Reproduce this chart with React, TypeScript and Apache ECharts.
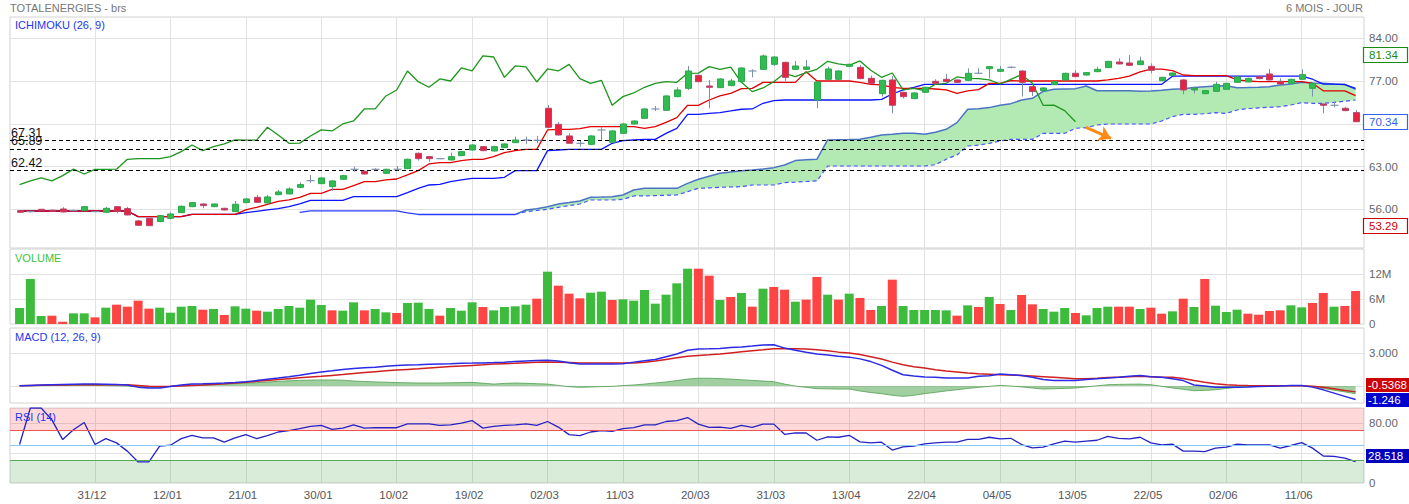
import { useEffect, useRef } from "react";
import * as echarts from "echarts";

// ---- axis ticks ----
const dateTickIdx = [7, 14, 21, 28, 35, 42, 49, 56, 63, 70, 77, 84, 91, 98, 105, 112, 119];
const dateLabels = ["31/12", "12/01", "21/01", "30/01", "10/02", "19/02", "02/03", "11/03", "20/03", "31/03", "13/04", "22/04", "04/05", "13/05", "22/05", "02/06", "11/06"];
const priceTicks = [56, 63, 70, 77, 84];
const priceLabelTicks = [56, 63, 77, 84];

// ---- daily candles: [open, close, low, high] ----
const candles = [
  [55.78, 55.51, 55.45, 55.84], [55.62, 55.60, 55.45, 55.78], [56.00, 55.85, 55.80, 56.05], [55.85, 55.80, 55.70, 55.95],
  [56.05, 55.56, 55.50, 56.35], [55.80, 55.82, 55.65, 55.95], [55.78, 56.43, 55.70, 56.50], [55.62, 55.64, 55.55, 55.70],
  [55.51, 56.16, 55.45, 56.40], [56.43, 55.67, 55.34, 56.50], [56.11, 55.07, 55.00, 56.40], [54.09, 53.38, 53.30, 54.25],
  [54.52, 53.32, 53.29, 54.60], [53.98, 54.96, 53.90, 55.05], [54.52, 55.23, 54.36, 55.51], [55.45, 56.49, 55.40, 56.60],
  [56.43, 57.09, 56.35, 57.20], [56.87, 56.60, 56.16, 56.95], [56.43, 56.87, 56.35, 56.95], [56.16, 55.89, 55.80, 56.25],
  [55.62, 56.82, 55.55, 57.36], [57.09, 57.69, 57.00, 57.80], [57.96, 57.14, 57.05, 58.35], [57.04, 58.02, 56.95, 58.35],
  [58.40, 58.84, 58.30, 59.16], [58.51, 59.33, 58.45, 59.60], [59.60, 60.04, 59.50, 60.42], [60.69, 60.66, 60.36, 61.62],
  [60.20, 61.13, 60.10, 61.25], [59.71, 60.64, 59.00, 60.75], [60.91, 61.51, 60.85, 61.65], [62.55, 62.57, 62.17, 62.98],
  [62.22, 61.78, 61.70, 62.35], [62.55, 62.53, 62.40, 62.70], [61.89, 62.55, 61.80, 62.65], [62.55, 62.57, 62.33, 63.09],
  [62.66, 64.19, 62.60, 64.30], [65.17, 64.29, 63.97, 65.30], [64.62, 64.29, 63.80, 64.70], [64.29, 64.31, 64.20, 64.40],
  [64.08, 64.62, 64.00, 65.28], [64.79, 65.44, 64.70, 65.55], [65.71, 66.53, 65.60, 66.65], [66.26, 65.60, 65.50, 66.35],
  [65.55, 66.26, 65.45, 66.40], [66.10, 66.70, 66.00, 66.80], [66.91, 67.35, 66.85, 67.90], [67.35, 67.33, 66.70, 67.90],
  [67.30, 67.32, 66.81, 68.01], [72.54, 69.43, 69.26, 73.08], [69.92, 68.17, 68.06, 70.30], [68.01, 66.81, 66.75, 68.44],
  [66.81, 66.83, 66.26, 67.19], [66.64, 68.01, 66.55, 68.10], [68.99, 69.01, 67.35, 69.53], [66.97, 68.83, 66.90, 68.95],
  [68.44, 69.97, 68.35, 70.05], [69.97, 70.46, 69.90, 70.55], [70.90, 72.43, 70.80, 72.55], [72.43, 72.45, 72.10, 72.92],
  [72.21, 74.56, 72.10, 74.65], [74.45, 75.54, 74.35, 75.98], [75.81, 78.65, 75.54, 79.47], [77.94, 76.90, 76.80, 78.05],
  [76.19, 75.98, 72.54, 77.18], [75.92, 77.34, 75.85, 77.45], [76.25, 77.01, 76.15, 77.34], [76.90, 79.14, 76.80, 79.25],
  [78.65, 78.67, 77.61, 78.92], [78.92, 81.11, 78.85, 81.34], [79.74, 80.94, 79.47, 81.05], [80.07, 77.61, 77.01, 80.15],
  [78.92, 79.47, 78.85, 80.29], [78.92, 79.31, 78.85, 80.45], [73.90, 76.85, 72.54, 76.95], [77.29, 78.98, 77.20, 79.36],
  [77.29, 78.65, 77.20, 78.75], [79.41, 79.74, 79.35, 79.85], [79.25, 77.40, 77.30, 79.63], [77.45, 76.63, 76.55, 77.89],
  [74.94, 77.12, 74.45, 77.20], [77.18, 73.03, 71.72, 77.83], [75.16, 74.45, 74.17, 75.25], [74.12, 75.05, 74.05, 75.15],
  [75.16, 75.98, 75.10, 76.05], [76.96, 76.63, 76.55, 77.29], [77.29, 76.90, 76.80, 78.16], [77.18, 76.79, 76.70, 77.25],
  [77.12, 78.27, 77.05, 79.09], [78.27, 78.29, 78.20, 79.09], [79.03, 79.36, 77.45, 79.45], [78.60, 78.92, 78.50, 79.47],
  [79.25, 79.27, 79.10, 79.40], [78.65, 76.79, 74.45, 78.75], [76.09, 75.27, 74.56, 76.15], [75.43, 75.87, 75.35, 75.95],
  [76.41, 76.90, 76.35, 77.00], [77.18, 78.27, 77.10, 78.35], [78.27, 77.72, 77.65, 78.81], [77.99, 78.38, 77.90, 78.45],
  [78.54, 78.92, 78.45, 79.36], [79.20, 80.23, 79.15, 80.30], [80.12, 79.80, 79.75, 80.72], [79.96, 79.58, 79.50, 81.27],
  [79.69, 80.29, 79.60, 81.00], [79.41, 78.76, 78.27, 79.91], [77.07, 77.61, 77.00, 77.70], [77.94, 78.32, 77.85, 78.40],
  [77.18, 75.54, 74.83, 77.30], [75.54, 75.81, 74.99, 76.09], [74.94, 75.43, 74.85, 75.50], [75.32, 76.47, 75.25, 76.90],
  [75.65, 76.63, 75.55, 76.70], [76.79, 77.67, 76.70, 77.99], [76.85, 77.45, 76.80, 77.55], [77.72, 77.40, 77.30, 77.99],
  [78.16, 77.18, 77.10, 78.98], [76.96, 76.52, 76.45, 77.45], [76.63, 77.29, 76.55, 77.35], [77.29, 78.05, 77.20, 78.92],
  [75.81, 76.63, 74.45, 76.70], [73.25, 73.03, 71.72, 73.30], [73.03, 73.05, 72.70, 73.57], [72.54, 72.16, 72.05, 72.81],
  [71.83, 70.34, 70.30, 72.26],
];

// ---- Ichimoku ----
const tenkan = [
  55.72, 55.72, 55.72, 55.72, 55.72, 55.72, 55.72, 55.72, 55.72, 55.72,
  55.72, 54.80, 54.80, 54.80, 54.80, 54.80, 55.18, 55.18, 55.18, 55.18,
  55.18, 55.89, 56.33, 56.82, 57.31, 57.53, 57.96, 58.62, 58.62, 59.27,
  59.27, 59.87, 60.53, 60.53, 60.80, 60.96, 61.62, 62.33, 63.42, 63.64,
  63.64, 63.97, 64.19, 64.19, 64.62, 65.28, 65.60, 65.82, 65.82, 68.99,
  69.10, 69.10, 69.21, 69.53, 69.53, 69.53, 69.53, 69.53, 69.26, 69.53,
  70.24, 71.00, 73.03, 73.03, 73.90, 74.56, 74.99, 75.76, 75.81, 76.79,
  76.79, 76.79, 76.79, 78.54, 77.01, 77.01, 77.01, 77.01, 76.79, 76.47,
  76.36, 75.98, 75.81, 75.81, 75.81, 75.70, 75.54, 75.00, 75.40, 75.60,
  76.63, 76.63, 77.06, 77.01, 77.01, 77.01, 77.01, 77.01, 77.01, 77.01,
  77.01, 77.20, 77.45, 77.80, 78.50, 78.95, 78.95, 78.70, 77.99, 77.88,
  77.88, 77.88, 77.88, 77.20, 77.01, 76.90, 76.90, 76.90, 76.90, 76.90,
  76.63, 75.40, 75.40, 75.40, 74.60,
];
const kijun = [
  55.72, 55.72, 55.72, 55.72, 55.72, 55.72, 55.72, 55.72, 55.72, 55.72,
  55.72, 54.80, 54.80, 54.80, 54.80, 54.80, 55.18, 55.18, 55.18, 55.18,
  55.18, 55.45, 55.67, 55.89, 56.11, 56.43, 56.87, 57.47, 57.47, 57.47,
  57.47, 58.07, 58.07, 58.07, 58.07, 58.07, 58.73, 59.44, 59.98, 60.09,
  60.53, 60.80, 61.07, 61.07, 61.07, 61.24, 62.33, 62.33, 62.33, 65.60,
  65.71, 65.82, 65.82, 65.82, 65.82, 66.81, 67.24, 67.35, 67.46, 67.46,
  68.44, 69.26, 71.55, 71.55, 71.72, 71.83, 72.10, 72.38, 72.43, 73.36,
  73.80, 73.90, 73.90, 73.90, 73.90, 73.90, 73.90, 73.90, 73.90, 73.90,
  74.01, 74.88, 75.54, 75.98, 76.47, 76.47, 76.46, 76.46, 76.46, 76.46,
  76.46, 76.46, 76.46, 76.46, 76.46, 76.46, 76.46, 76.46, 76.46, 76.46,
  76.46, 76.46, 76.46, 76.46, 76.46, 76.46, 76.46, 77.80, 77.80, 77.80,
  77.80, 77.80, 77.80, 77.80, 77.80, 77.80, 77.80, 77.80, 77.80, 77.80,
  77.30, 76.50, 76.50, 76.40, 75.80,
];
// lagging span, plotted from the first session
const chikou = [
  60.04, 60.66, 61.13, 60.64, 61.51, 62.57, 61.78, 62.53, 62.55, 62.57,
  64.19, 64.29, 64.29, 64.31, 64.62, 65.44, 66.53, 65.60, 66.26, 66.70,
  67.35, 67.33, 67.32, 69.43, 68.17, 66.81, 66.83, 68.01, 69.01, 68.83,
  69.97, 70.46, 72.43, 72.45, 74.56, 75.54, 78.65, 76.90, 75.98, 77.34,
  77.01, 79.14, 78.67, 81.11, 80.94, 77.61, 79.47, 79.31, 76.85, 78.98,
  78.65, 79.74, 77.40, 76.63, 77.12, 73.03, 74.45, 75.05, 75.98, 76.63,
  76.90, 76.79, 78.27, 78.29, 79.36, 78.92, 79.27, 76.79, 75.27, 75.87,
  76.90, 78.27, 77.72, 78.38, 78.92, 80.23, 79.80, 79.58, 80.29, 78.76,
  77.61, 78.32, 75.54, 75.81, 75.43, 76.47, 76.63, 77.67, 77.45, 77.40,
  77.18, 76.52, 77.29, 78.05, 76.63, 73.03, 73.05, 72.16, 70.34,
];
const senkouEarlyStart = 26;
const senkouEarly = [
  55.51, 55.75, 55.75, 55.75, 55.75, 55.75, 55.75, 55.75, 55.75, 55.75,
  55.40, 55.15, 55.15, 55.15, 55.15, 55.15, 55.15, 55.15, 55.15, 55.15, 55.15,
];
const cloudStart = 46;
const cloudUpper = [
  55.15, 55.89, 56.10, 56.43, 56.87, 57.10, 57.36, 57.96, 58.00, 58.07,
  58.34, 59.16, 59.43, 59.43, 59.43, 59.43, 60.25, 60.91, 61.40, 61.89,
  62.10, 62.30, 62.44, 62.60, 62.82, 63.26, 63.97, 64.10, 64.18, 67.35,
  67.40, 67.42, 67.46, 67.79, 68.17, 68.30, 68.44, 68.44, 68.28, 68.61,
  69.10, 70.19, 72.37, 72.45, 72.65, 73.03, 73.30, 73.90, 74.17, 75.30,
  75.64, 75.70, 75.76, 76.19, 75.42, 75.40, 75.40, 75.40, 75.35, 75.37,
  75.50, 75.64, 75.75, 75.95, 76.08, 76.20, 76.24, 75.92, 75.95, 76.00,
  76.08, 76.35, 76.50, 76.79, 76.70, 76.63, 76.50, 76.46, 75.64,
];
const cloudLower = [
  55.15, 55.61, 55.80, 56.00, 56.32, 56.60, 56.87, 57.52, 57.52, 57.52,
  57.63, 58.18, 58.18, 58.25, 58.30, 58.34, 58.89, 59.43, 59.50, 59.60,
  59.65, 59.71, 59.98, 59.98, 59.98, 60.36, 60.45, 60.55, 60.64, 63.09,
  63.09, 63.09, 63.09, 63.09, 63.09, 63.09, 63.09, 63.09, 63.09, 63.30,
  64.20, 64.89, 66.36, 66.50, 66.80, 67.18, 67.45, 67.45, 67.45, 68.44,
  68.44, 68.44, 69.26, 69.37, 69.80, 69.97, 69.97, 69.97, 69.97, 69.97,
  70.46, 71.17, 71.55, 71.55, 71.65, 71.82, 71.71, 72.26, 72.50, 72.60,
  72.70, 72.80, 73.08, 73.46, 73.35, 73.35, 73.50, 73.70, 73.90,
];
const supportLevels = [67.31, 65.89, 62.42];
// trend arrow: [index, price] start and end
const arrowFrom = [98.98, 69.43];
const arrowTo = [101.3, 67.6];

// ---- volume (millions) and direction (1 = up session) ----
const volumes = [
  3.84, 10.8, 1.92, 2.0, 0.56, 2.56, 2.56, 1.6, 3.92, 4.64,
  4.16, 5.6, 3.68, 3.92, 2.72, 4.16, 4.32, 3.44, 3.6, 2.16,
  4.24, 3.68, 3.2, 2.96, 3.6, 4.32, 3.92, 5.84, 4.56, 3.28,
  3.2, 5.2, 3.28, 3.6, 2.8, 2.64, 5.04, 5.12, 3.6, 2.0,
  3.84, 3.2, 5.2, 4.08, 3.28, 4.08, 4.24, 4.64, 6.08, 12.56,
  9.2, 7.28, 6.16, 7.52, 7.76, 5.76, 5.92, 5.6, 8.16, 4.88,
  7.04, 9.76, 13.28, 13.28, 11.6, 5.76, 6.48, 7.44, 4.16, 8.48,
  8.88, 8.24, 5.36, 5.84, 11.28, 7.04, 5.84, 7.28, 6.24, 3.36,
  4.32, 10.64, 4.32, 3.36, 3.36, 3.36, 3.28, 2.0, 4.48, 4.08,
  6.48, 4.8, 3.36, 6.96, 4.72, 3.6, 2.96, 3.84, 2.64, 2.08,
  3.84, 4.16, 4.16, 4.16, 3.6, 3.92, 2.48, 3.04, 6.08, 4.08,
  10.8, 4.4, 2.88, 3.44, 2.48, 2.24, 3.12, 3.28, 4.48, 4.0,
  5.04, 7.44, 4.16, 4.32, 7.92,
];
const volumeUp = [
  1, 1, 1, 0, 0, 1, 1, 0, 1, 0, 0, 0, 0, 1, 1, 1, 1, 0, 1, 0,
  1, 1, 0, 1, 1, 1, 1, 1, 1, 0, 1, 1, 0, 1, 1, 0, 1, 1, 1, 0,
  1, 1, 1, 0, 1, 1, 1, 1, 0, 1, 0, 0, 0, 1, 1, 0, 1, 1, 1, 1,
  1, 1, 1, 0, 0, 1, 0, 1, 0, 1, 0, 0, 1, 0, 0, 1, 0, 1, 0, 0,
  1, 0, 1, 1, 1, 1, 1, 0, 1, 0, 1, 0, 1, 0, 0, 1, 1, 1, 0, 1,
  1, 1, 0, 0, 1, 0, 0, 1, 0, 1, 0, 1, 1, 1, 0, 0, 0, 0, 1, 1,
  0, 0, 1, 0, 0,
];

// ---- MACD (12, 26, 9) ----
const macdLine = [
  0.03, 0.06, 0.09, 0.12, 0.15, 0.17, 0.18, 0.18, 0.17, 0.14,
  0.10, -0.10, -0.18, -0.18, -0.05, 0.10, 0.18, 0.20, 0.24, 0.28,
  0.33, 0.40, 0.50, 0.62, 0.73, 0.86, 1.00, 1.15, 1.29, 1.40,
  1.52, 1.62, 1.68, 1.74, 1.82, 1.88, 1.94, 1.96, 2.00, 2.03,
  2.06, 2.10, 2.11, 2.13, 2.16, 2.20, 2.25, 2.30, 2.35, 2.38,
  2.30, 2.15, 2.02, 2.02, 2.02, 2.02, 2.05, 2.20, 2.33, 2.45,
  2.70, 2.95, 3.30, 3.40, 3.42, 3.46, 3.55, 3.60, 3.68, 3.78,
  3.80, 3.49, 3.30, 3.10, 2.94, 2.85, 2.75, 2.66, 2.50, 2.25,
  1.90, 1.45, 1.04, 0.92, 0.83, 0.80, 0.75, 0.73, 0.75, 0.90,
  0.95, 1.10, 1.05, 0.98, 0.80, 0.60, 0.52, 0.52, 0.52, 0.60,
  0.68, 0.73, 0.80, 0.90, 0.98, 0.86, 0.80, 0.67, 0.50, 0.10,
  0.00, -0.10, -0.12, -0.12, -0.09, -0.05, -0.03, 0.00, 0.04, 0.06,
  -0.10, -0.35, -0.65, -0.95, -1.246,
];
const macdSignal = [
  0.03, 0.05, 0.07, 0.09, 0.10, 0.11, 0.12, 0.13, 0.13, 0.13,
  0.12, 0.06, -0.02, -0.05, -0.03, 0.00, 0.04, 0.10, 0.14, 0.20,
  0.27, 0.35, 0.43, 0.52, 0.60, 0.68, 0.76, 0.83, 0.90, 0.98,
  1.06, 1.15, 1.24, 1.32, 1.40, 1.48, 1.53, 1.58, 1.66, 1.73,
  1.80, 1.85, 1.90, 1.95, 2.02, 2.06, 2.10, 2.15, 2.20, 2.22,
  2.20, 2.16, 2.12, 2.11, 2.11, 2.11, 2.11, 2.13, 2.20, 2.30,
  2.45, 2.60, 2.75, 2.82, 2.88, 2.95, 3.05, 3.15, 3.25, 3.33,
  3.43, 3.43, 3.42, 3.40, 3.35, 3.25, 3.12, 3.03, 2.90, 2.70,
  2.48, 2.20, 1.95, 1.78, 1.65, 1.50, 1.38, 1.29, 1.20, 1.12,
  1.08, 1.04, 1.01, 0.98, 0.92, 0.86, 0.80, 0.74, 0.67, 0.67,
  0.72, 0.78, 0.82, 0.86, 0.89, 0.86, 0.82, 0.80, 0.70, 0.50,
  0.35, 0.22, 0.12, 0.08, 0.05, 0.03, 0.03, 0.03, 0.03, 0.03,
  -0.02, -0.12, -0.25, -0.40, -0.5368,
];
const macdHist = [
  0.02, 0.03, 0.04, 0.05, 0.05, 0.06, 0.06, 0.05, 0.04, 0.02,
  0.00, -0.08, -0.12, -0.10, -0.02, 0.04, 0.08, 0.12, 0.15, 0.18,
  0.22, 0.26, 0.31, 0.37, 0.43, 0.48, 0.52, 0.55, 0.56, 0.56,
  0.54, 0.46, 0.42, 0.38, 0.35, 0.32, 0.30, 0.28, 0.28, 0.28,
  0.30, 0.32, 0.34, 0.26, 0.18, 0.24, 0.28, 0.25, 0.22, 0.18,
  0.06, -0.06, -0.12, -0.09, -0.05, -0.03, 0.04, 0.10, 0.18, 0.28,
  0.37, 0.50, 0.64, 0.72, 0.72, 0.68, 0.64, 0.58, 0.52, 0.46,
  0.40, 0.18, 0.00, -0.12, -0.24, -0.26, -0.28, -0.28, -0.45, -0.60,
  -0.70, -0.85, -0.95, -0.85, -0.70, -0.58, -0.45, -0.34, -0.22, -0.12,
  -0.03, 0.06, 0.00, -0.08, -0.18, -0.28, -0.25, -0.22, -0.18, -0.08,
  0.02, 0.12, 0.15, 0.17, 0.18, 0.12, -0.02, -0.18, -0.30, -0.43,
  -0.40, -0.34, -0.22, -0.12, -0.06, -0.03, 0.00, 0.02, 0.03, 0.03,
  -0.06, -0.22, -0.38, -0.54, -0.709,
];

// ---- RSI (14) ----
const rsi = [
  51.3, 100, 100, 84.2, 57.9, 71.1, 80.7, 51.3, 59.2, 53.5,
  42.5, 28.1, 28.1, 49.1, 50.4, 59.2, 63.6, 60.1, 60.1, 54.4,
  60.1, 64.5, 59.2, 63.2, 68.0, 69.7, 72.4, 75.4, 76.8, 71.5,
  73.2, 77.6, 73.2, 73.7, 73.7, 73.7, 78.9, 78.9, 78.9, 76.8,
  77.6, 79.8, 83.3, 73.2, 75.4, 76.8, 77.6, 78.9, 76.8, 82.0,
  74.6, 64.5, 63.2, 68.0, 69.7, 68.9, 72.4, 73.7, 77.6, 77.6,
  82.0, 83.3, 87.3, 78.5, 74.1, 74.6, 72.8, 76.8, 74.1, 78.5,
  78.5, 64.9, 66.7, 66.7, 57.0, 61.4, 61.0, 63.6, 54.8, 53.5,
  54.4, 43.9, 48.2, 49.1, 52.2, 53.5, 54.4, 54.4, 58.3, 58.3,
  61.0, 58.8, 59.6, 51.3, 46.9, 47.8, 52.2, 55.7, 54.4, 55.7,
  57.0, 62.3, 59.6, 58.8, 61.0, 53.5, 50.9, 51.8, 42.5, 42.5,
  41.7, 46.5, 47.8, 51.8, 50.9, 50.9, 50.9, 46.5, 50.0, 53.9,
  46.5, 36.0, 35.5, 33.3, 28.518,
];

const FONT = '"Liberation Sans", Arial, sans-serif';
const X_MIN = -0.889;
const X_MAX = 124.78;
const GRID_LEFT = 10;
const GRID_RIGHT = 45;
const PANELS = [
  { top: 17, height: 231 },
  { top: 249, height: 75 },
  { top: 328, height: 75 },
  { top: 408, height: 75 },
];
const SPLIT = "#e2e2e2";
const WICK = "#7d8fab";
const UP = "#2fbd52";
const DOWN = "#e8223f";

const pairs = (arr: number[], start = 0) => arr.map((v, k) => [start + k, v]);

function buildOption() {
  const xAxes = PANELS.map((_, k) => ({
    type: "value",
    gridIndex: k,
    min: X_MIN,
    max: X_MAX,
    axisLine: { show: false },
    axisTick: { show: false, customValues: dateTickIdx },
    splitLine: { show: true, lineStyle: { color: SPLIT, width: 1 } },
    axisLabel:
      k === 3
        ? {
            show: true,
            customValues: dateTickIdx,
            formatter: (v: number) => dateLabels[dateTickIdx.indexOf(Math.round(v))] ?? "",
            color: "#555",
            fontSize: 11.5,
            fontFamily: FONT,
            margin: 6,
            padding: [0, 6, 0, 0],
          }
        : { show: false },
  }));

  const yBase = (k: number) => ({
    type: "value",
    gridIndex: k,
    position: "right",
    axisLine: { show: false },
    splitLine: { show: true, lineStyle: { color: SPLIT, width: 1 } },
  });
  const labelStyle = { color: "#666", fontSize: 11.5, fontFamily: FONT, margin: 5 };

  const yAxes = [
    {
      ...yBase(0),
      min: 49.66,
      max: 87.49,
      axisTick: { show: false, customValues: priceTicks },
      axisLabel: { ...labelStyle, customValues: priceLabelTicks, formatter: (v: number) => v.toFixed(2) },
    },
    {
      ...yBase(1),
      min: 0,
      max: 18,
      axisTick: { show: false, customValues: [6, 12] },
      axisLabel: { ...labelStyle, customValues: [0, 6, 12], formatter: (v: number) => (v === 0 ? "0" : v + "M") },
    },
    {
      ...yBase(2),
      min: -1.56,
      max: 5.34,
      axisTick: { show: false, customValues: [0, 3] },
      axisLabel: { ...labelStyle, customValues: [3], formatter: (v: number) => v.toFixed(3) },
    },
    {
      ...yBase(3),
      min: 0,
      max: 100,
      axisTick: { show: false, customValues: [40, 80] },
      axisLabel: { ...labelStyle, customValues: [0, 80], formatter: (v: number) => (v === 0 ? "0" : v.toFixed(2)) },
    },
  ];

  const line = (data: number[][], color: string, extra: any = {}) => ({
    type: "line",
    xAxisIndex: 0,
    yAxisIndex: 0,
    data,
    symbol: "none",
    silent: true,
    lineStyle: { color, width: 1.3 },
    z: 3,
    ...extra,
  });

  const series: any[] = [
    // Kumo fill between the two spans
    {
      type: "custom",
      xAxisIndex: 0,
      yAxisIndex: 0,
      silent: true,
      clip: true,
      z: 1,
      data: [[cloudStart, cloudUpper[0]]],
      renderItem: (_p: any, api: any) => {
        const top = cloudUpper.map((v, k) => api.coord([cloudStart + k, v]));
        const bottom = cloudLower.map((v, k) => api.coord([cloudStart + k, v])).reverse();
        return { type: "polygon", shape: { points: top.concat(bottom) }, style: { fill: "#b3e9b3" } };
      },
    },
    line(pairs(senkouEarly, senkouEarlyStart), "#2a3cff", { z: 2 }),
    line(pairs(cloudUpper, cloudStart), "#4a74c2", { z: 2, lineStyle: { color: "#4a74c2", width: 1.5 } }),
    line(pairs(cloudLower, cloudStart), "#4656ff", { z: 2, lineStyle: { color: "#4656ff", width: 1.2, type: [4, 3] } }),
    line(pairs(kijun), "#0a14ff"),
    line(pairs(tenkan), "#e00000", {
      markLine: {
        silent: true,
        animation: false,
        symbol: ["none", "none"],
        lineStyle: { color: "#000", type: [4, 3], width: 1.2 },
        label: {
          show: true,
          position: "insideStartTop",
          color: "#111",
          fontSize: 12.5,
          fontFamily: FONT,
          distance: 1,
        },
        data: supportLevels.map((v) => ({ yAxis: v, label: { formatter: v.toFixed(2) } })),
      },
    }),
    line(pairs(chikou), "#1d961d", {
      markLine: {
        silent: true,
        animation: false,
        symbol: ["none", "arrow"],
        symbolSize: 12,
        label: { show: false },
        lineStyle: { color: "#ff8a14", width: 3, type: "solid" },
        data: [[{ coord: arrowFrom }, { coord: arrowTo }]],
      },
    }),
    // candlesticks
    {
      type: "custom",
      xAxisIndex: 0,
      yAxisIndex: 0,
      silent: true,
      clip: true,
      z: 5,
      data: candles.map((c, i) => [i, c[0], c[1], c[2], c[3]]),
      encode: { x: 0, y: [1, 2, 3, 4] },
      renderItem: (_p: any, api: any) => {
        const i = api.value(0);
        const o = api.value(1);
        const c = api.value(2);
        const lo = api.value(3);
        const hi = api.value(4);
        const pO = api.coord([i, o]);
        const yC = api.coord([i, c])[1];
        const yL = api.coord([i, lo])[1];
        const yH = api.coord([i, hi])[1];
        const cx = Math.round(pO[0]) + 0.5;
        const children: any[] = [
          { type: "line", shape: { x1: cx, y1: yH, x2: cx, y2: yL }, style: { stroke: WICK, lineWidth: 1 } },
        ];
        if (Math.abs(o - c) < 0.05) {
          children.push({
            type: "line",
            shape: { x1: cx - 4, y1: pO[1], x2: cx + 4, y2: pO[1] },
            style: { stroke: WICK, lineWidth: 1.2 },
          });
        } else {
          const up = c > o;
          const top = Math.min(pO[1], yC);
          const h = Math.max(Math.abs(pO[1] - yC), 1);
          children.push({
            type: "rect",
            shape: { x: cx - 3, y: top, width: 6, height: h },
            style: { fill: up ? UP : DOWN, stroke: up ? "#2aa84a" : "#b4466a", lineWidth: 1 },
          });
        }
        return { type: "group", children };
      },
    },
    // volume
    {
      type: "bar",
      xAxisIndex: 1,
      yAxisIndex: 1,
      silent: true,
      barWidth: 9,
      data: volumes.map((v, i) => ({
        value: [i, v],
        itemStyle: { color: volumeUp[i] ? "#3dbb3d" : "#ff4444" },
      })),
    },
    // MACD
    {
      type: "line",
      xAxisIndex: 2,
      yAxisIndex: 2,
      silent: true,
      symbol: "none",
      data: pairs(macdHist),
      lineStyle: { color: "#4f9f4f", width: 0.8 },
      areaStyle: { color: "rgba(70,160,70,0.72)", origin: 0 },
      z: 2,
    },
    {
      type: "line",
      xAxisIndex: 2,
      yAxisIndex: 2,
      silent: true,
      symbol: "none",
      data: pairs(macdSignal),
      lineStyle: { color: "#d02020", width: 1.5 },
      z: 3,
    },
    {
      type: "line",
      xAxisIndex: 2,
      yAxisIndex: 2,
      silent: true,
      symbol: "none",
      data: pairs(macdLine),
      lineStyle: { color: "#2b2be6", width: 1.5 },
      z: 4,
    },
    // RSI
    {
      type: "line",
      xAxisIndex: 3,
      yAxisIndex: 3,
      silent: true,
      symbol: "none",
      data: pairs(rsi),
      lineStyle: { color: "#2323c4", width: 1.3 },
      z: 4,
      markArea: {
        silent: true,
        animation: false,
        data: [
          [{ yAxis: 70, itemStyle: { color: "rgba(255,0,0,0.15)" } }, { yAxis: 100 }],
          [{ yAxis: 0, itemStyle: { color: "rgba(0,120,0,0.15)" } }, { yAxis: 30 }],
        ],
      },
      markLine: {
        silent: true,
        animation: false,
        symbol: ["none", "none"],
        label: { show: false },
        data: [
          { yAxis: 70, lineStyle: { color: "#ee5555", type: "solid", width: 1 } },
          { yAxis: 50, lineStyle: { color: "#8cc8f8", type: "solid", width: 1 } },
          { yAxis: 30, lineStyle: { color: "#57a857", type: "solid", width: 1 } },
        ],
      },
    },
  ];

  return {
    animation: false,
    backgroundColor: "#fff",
    grid: PANELS.map((p) => ({
      left: GRID_LEFT,
      right: GRID_RIGHT,
      top: p.top,
      height: p.height,
      show: true,
      borderColor: "#d2d2d2",
      borderWidth: 1,
      backgroundColor: "#fff",
    })),
    xAxis: xAxes,
    yAxis: yAxes,
    series,
  };
}

function textEl(x: number, y: number, text: string, fill: string, size: number, align = "left") {
  return {
    type: "text",
    x,
    y,
    silent: true,
    z: 100,
    style: { text, fill, font: `${size}px ${FONT}`, align, verticalAlign: "middle" },
  };
}

function buildGraphics(chart: any) {
  const yPix = (axis: number, v: number) => chart.convertToPixel({ yAxisIndex: axis }, v) as number;
  const plotRight = 1409 - GRID_RIGHT;

  const outlined = (v: number, text: string, color: string) => {
    const y = yPix(0, v);
    return {
      type: "group",
      z: 100,
      silent: true,
      children: [
        {
          type: "rect",
          shape: { x: plotRight - 0.5, y: Math.round(y - 7.5) + 0.5, width: 44, height: 15 },
          style: { fill: "#fff", stroke: color, lineWidth: 1.2 },
        },
        textEl(plotRight + 5, y, text, color, 11.5),
      ],
    };
  };
  const filled = (axis: number, v: number, text: string, bg: string, shift: number) => {
    const y = yPix(axis, v) + shift;
    return {
      type: "group",
      z: 100,
      silent: true,
      children: [
        {
          type: "rect",
          shape: { x: plotRight + 2, y: Math.round(y - 7), width: 44, height: 14 },
          style: { fill: bg },
        },
        textEl(plotRight + 4, y, text, "#fff", 11.5),
      ],
    };
  };

  const highs = candles.map((c) => c[3]);
  const lows = candles.map((c) => c[2]);
  const hiVal = Math.max(...highs);
  const loVal = Math.min(...lows);
  const last = candles[candles.length - 1][1];
  const lastMacd = macdLine[macdLine.length - 1];
  const lastSignal = macdSignal[macdSignal.length - 1];
  const lastRsi = rsi[rsi.length - 1];

  return [
    textEl(10, 8, "TOTALENERGIES - brs", "#777", 11),
    textEl(plotRight - 1, 8, "6 MOIS - JOUR", "#777", 11, "right"),
    textEl(15, 25, "ICHIMOKU (26, 9)", "#2238f0", 11),
    textEl(15, 258, "VOLUME", "#3cc43c", 11),
    textEl(15, 337, "MACD (12, 26, 9)", "#2238f0", 11),
    textEl(15, 417, "RSI (14)", "#2238f0", 11),
    outlined(hiVal, hiVal.toFixed(2), "#168c16"),
    outlined(last, last.toFixed(2), "#3563f0"),
    outlined(loVal, loVal.toFixed(2), "#cc0000"),
    filled(2, lastSignal, String(lastSignal), "#cc0000", -7),
    filled(2, lastMacd, String(lastMacd), "#0000cc", 0),
    filled(3, lastRsi, String(lastRsi), "#0000bb", -6),
  ];
}

export default function App() {
  const ref = useRef<HTMLDivElement>(null);
  useEffect(() => {
    if (!ref.current) return;
    const chart = echarts.init(ref.current, undefined, { renderer: "svg" });
    chart.setOption(buildOption() as any);
    chart.setOption({ graphic: buildGraphics(chart) } as any);
    return () => chart.dispose();
  }, []);
  return (
    <div
      ref={ref}
      style={{ position: "absolute", left: 0, top: 0, width: 1409, height: 504, background: "#fff" }}
    />
  );
}
